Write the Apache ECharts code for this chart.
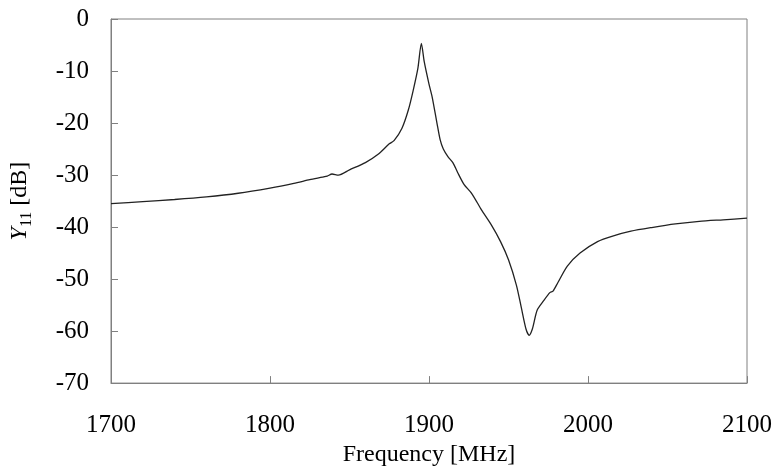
<!DOCTYPE html>
<html>
<head>
<meta charset="utf-8">
<script src="https://cdn.jsdelivr.net/npm/echarts@6/dist/echarts.min.js"></script>
<style>html,body{margin:0;padding:0;background:#fff}#c{width:776px;height:472px}</style>
</head>
<body>
<div id="c"></div>
<script>
const freqs = [1700,1720,1740,1760,1780,1800,1815,1825,1833,1836,1839,1843,1850,1860,1868,1875,1878,1883,1887,1890,1893,1895.2,1897,1900,1902,1905,1907,1909,1912,1915,1918,1922,1927,1933,1939,1945,1950,1955,1958,1961,1963,1965,1968,1972,1976,1978,1981,1987,1995,2006,2016,2027,2040,2055,2070,2085,2100];
const y11 = [-35.5,-35.1,-34.7,-34.2,-33.5,-32.5,-31.6,-30.9,-30.4,-30.2,-29.8,-30.0,-29.0,-27.6,-26.0,-24.0,-23.4,-21.0,-17.5,-13.8,-9.5,-4.7,-8.2,-12.5,-15.0,-20.0,-23.2,-25.0,-26.5,-27.6,-29.5,-31.8,-33.6,-36.7,-39.5,-42.8,-46.3,-51.2,-55.4,-59.6,-60.8,-59.6,-56.0,-54.2,-52.6,-52.3,-50.7,-47.5,-45.0,-42.8,-41.7,-40.8,-40.1,-39.4,-38.9,-38.6,-38.3];
const xTicks = [1700,1800,1900,2000,2100];
const yTicks = [0,-10,-20,-30,-40,-50,-60,-70];

const font = '"Liberation Serif","Times New Roman",serif';
const chart = echarts.init(document.getElementById('c'));
chart.setOption({
  animation:false,
  grid:{left:107,right:29,top:19,bottom:83,show:true,borderColor:'#808080',borderWidth:1},
  xAxis:{
    type:'value',min:xTicks[0],max:xTicks[xTicks.length-1],interval:100,
    name:'Frequency [MHz]',nameLocation:'middle',nameGap:50,
    nameTextStyle:{fontFamily:font,fontSize:24,color:'#000'},
    axisLine:{onZero:false,lineStyle:{color:'#808080',width:1}},
    axisTick:{inside:true,length:7,lineStyle:{color:'#808080'}},
    axisLabel:{fontFamily:font,fontSize:25,color:'#000',margin:30,formatter:v=>String(v)},
    splitLine:{show:false}
  },
  yAxis:{
    type:'value',min:yTicks[yTicks.length-1],max:yTicks[0],interval:10,
    name:'{i|Y}{s|11}{n| [dB]}',nameLocation:'middle',nameGap:76,
    nameTextStyle:{fontFamily:font,fontSize:24,color:'#000',
      rich:{
        i:{fontFamily:font,fontSize:24,fontStyle:'italic',color:'#000',verticalAlign:'middle',lineHeight:30},
        s:{fontFamily:font,fontSize:16,color:'#000',verticalAlign:'bottom',lineHeight:30},
        n:{fontFamily:font,fontSize:24,color:'#000',verticalAlign:'middle',lineHeight:30}
      }},
    axisLine:{onZero:false,lineStyle:{color:'#808080',width:1}},
    axisTick:{inside:true,length:7,lineStyle:{color:'#808080'}},
    axisLabel:{fontFamily:font,fontSize:25,color:'#000',margin:22,formatter:v=>String(v)},
    splitLine:{show:false}
  },
  series:[{
    type:'line',
    data:freqs.map((f,i)=>[f,y11[i]]),
    showSymbol:false,
    smooth:0.25,
    lineStyle:{color:'#222',width:1.3}
  }]
});
</script>
</body>
</html>
